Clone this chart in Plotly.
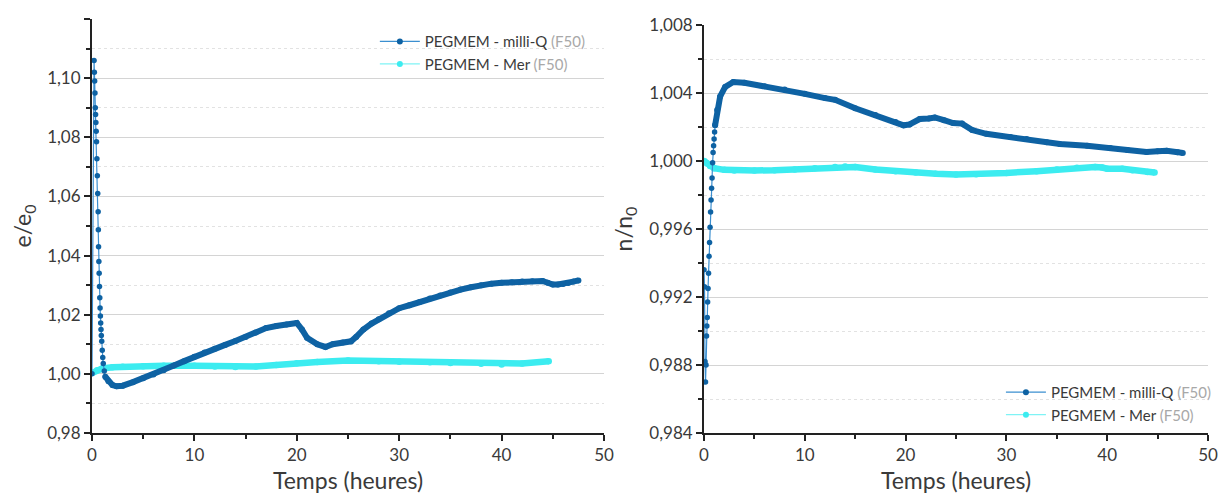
import plotly.graph_objects as go

# ---------------- Data ----------------
# Left panel: e/e0 vs time (h)
L_mq_early_t = [0.00, 0.20, 0.23, 0.26, 0.29, 0.32, 0.35, 0.38, 0.41, 0.44, 0.48, 0.52, 0.56, 0.60,
                0.62, 0.64, 0.67, 0.70, 0.73, 0.76, 0.79, 0.82, 0.85, 0.88, 0.91, 0.95, 1.00, 1.05,
                1.10, 1.20, 1.30]
L_mq_early_y = [1.000, 1.106, 1.102, 1.099, 1.095, 1.090, 1.0877, 1.085, 1.082, 1.0785, 1.0727, 1.067,
                1.061, 1.0548, 1.0487, 1.043, 1.038, 1.034, 1.0295, 1.0257, 1.0223, 1.0196, 1.0172,
                1.0150, 1.013, 1.011, 1.008, 1.0055, 1.0035, 1.001, 0.999]
L_mq_t = [1.3, 1.6, 2.0, 2.4, 3.0, 4.0, 5.0, 6.0, 7.0, 8.0, 9.0, 10.0, 11.0, 12.0, 13.0, 14.0, 15.0,
          16.0, 17.0, 18.0, 19.0, 20.0, 20.5, 21.0, 22.0, 22.8, 23.5, 24.5, 25.3, 25.8, 26.5, 27.3,
          28.0, 29.0, 30.0, 31.0, 32.0, 33.0, 34.0, 35.0, 36.0, 37.0, 38.0, 39.0, 40.0, 41.0, 42.0,
          43.0, 44.0, 44.5, 45.0, 45.5, 46.0, 46.5, 47.0, 47.5]
L_mq_y = [0.999, 0.9975, 0.9962, 0.9958, 0.996, 0.9972, 0.9985, 0.9998, 1.0012, 1.0028, 1.0043,
          1.0058, 1.0072, 1.0085, 1.0098, 1.0111, 1.0125, 1.0140, 1.0155, 1.0162, 1.0167, 1.0172,
          1.0150, 1.0122, 1.0100, 1.0091, 1.0100, 1.0106, 1.0110, 1.0125, 1.0150, 1.0170, 1.0185,
          1.0205, 1.0222, 1.0232, 1.0243, 1.0255, 1.0265, 1.0275, 1.0285, 1.0293, 1.0300, 1.0305,
          1.0308, 1.0310, 1.0312, 1.0313, 1.0314, 1.0308, 1.0302, 1.0302, 1.0304, 1.0307, 1.0312,
          1.0316]
L_mer_t = [0.0, 0.5, 1.0, 2.0, 3.0, 5.0, 7.0, 10.0, 12.0, 14.0, 16.0, 18.0, 20.0, 22.0, 25.0, 28.0,
           30.0, 33.0, 35.0, 38.0, 40.0, 42.0, 44.6]
L_mer_y = [1.0003, 1.0012, 1.0018, 1.0022, 1.0024, 1.0026, 1.0027, 1.0027, 1.0025, 1.0023, 1.0025,
           1.0030, 1.0036, 1.0040, 1.0045, 1.0043, 1.0041, 1.0039, 1.0037, 1.0034, 1.0032, 1.0035,
           1.0043]

# Right panel: n/n0 vs time (h)
R_mq_early_t = [0.00, 0.05, 0.10, 0.15, 0.20, 0.25, 0.28, 0.32, 0.36, 0.40, 0.45, 0.50, 0.55, 0.60,
                0.65, 0.70, 0.75, 0.80, 0.85, 0.90, 0.95, 1.00, 1.05, 1.10]
R_mq_early_y = [0.9936, 0.9926, 0.9882, 0.9870, 0.9880, 0.9897, 0.9903, 0.9908, 0.9917, 0.9925,
                0.9934, 0.9944, 0.9952, 0.9961, 0.9970, 0.9977, 0.9984, 0.9990, 0.9999, 1.0005,
                1.0009, 1.0013, 1.0017, 1.0021]
R_mq_t = [1.1, 1.3, 1.6, 2.1, 2.9, 4.0, 6.0, 8.0, 10.0, 12.0, 13.0, 15.0, 17.0, 19.0, 19.8, 20.4,
          21.4, 22.3, 22.9, 23.8, 24.7, 25.6, 26.6, 28.0, 30.4, 32.0, 34.0, 35.3, 38.0, 40.3, 42.0,
          43.9, 45.0, 45.9, 47.0, 47.5]
R_mq_y = [1.0021, 1.0030, 1.0038, 1.00436, 1.00465, 1.0046, 1.0044, 1.0042, 1.00395, 1.0037, 1.0036,
          1.0031, 1.0027, 1.0023, 1.0021, 1.00215, 1.00247, 1.0025, 1.00256, 1.0024, 1.00223, 1.0022,
          1.00182, 1.0016, 1.00141, 1.0013, 1.0011, 1.0010, 1.0009, 1.00076, 1.00065, 1.00053,
          1.00058, 1.0006, 1.00052, 1.00047]
R_mer_t = [0.0, 0.3, 0.6, 1.0, 2.0, 3.0, 5.0, 7.0, 9.0, 11.0, 13.0, 14.0, 15.0, 17.0, 19.0, 21.0,
           23.0, 25.0, 27.0, 30.0, 33.0, 35.0, 37.0, 38.8, 39.5, 40.0, 41.5, 42.5, 44.0, 44.7]
R_mer_y = [1.0000, 0.99985, 0.9997, 0.99958, 0.99948, 0.99944, 0.99944, 0.99946, 0.9995, 0.99958,
           0.99965, 0.99967, 0.99965, 0.9995, 0.9994, 0.99933, 0.99925, 0.9992, 0.99922, 0.9993,
           0.9994, 0.9995, 0.9996, 0.99965, 0.99962, 0.99955, 0.99955, 0.99945, 0.99935, 0.99932]

LABEL_MQ = "PEGMEM - milli-Q <span style='color:#a8a8a8'>(F50)</span>"
LABEL_MER = "PEGMEM - Mer <span style='color:#a8a8a8'>(F50)</span>"

C_MQ = "#0e62a3"
C_MQ_THIN = "#3b8fd0"
C_MER = "#3cecf0"
FONT = "Lato, 'Open Sans', sans-serif"
TXT = "#3a3a3a"

fig = go.Figure()

def add_panel(xa, ya, e_t, e_y, m_t, m_y, r_t, r_y, legend):
    fig.add_trace(go.Scatter(x=r_t, y=r_y, mode="lines+markers", xaxis=xa, yaxis=ya,
                             line=dict(color=C_MER, width=6.5), marker=dict(color=C_MER, size=6.5),
                             showlegend=False, hoverinfo="skip"))
    fig.add_trace(go.Scatter(x=e_t, y=e_y, mode="lines+markers", xaxis=xa, yaxis=ya,
                             line=dict(color=C_MQ_THIN, width=1.2),
                             marker=dict(color=C_MQ, size=5.5),
                             showlegend=False, hoverinfo="skip"))
    fig.add_trace(go.Scatter(x=m_t, y=m_y, mode="lines+markers", xaxis=xa, yaxis=ya,
                             line=dict(color=C_MQ, width=6), marker=dict(color=C_MQ, size=6),
                             showlegend=False, hoverinfo="skip"))
    fig.add_trace(go.Scatter(x=[None], y=[None], mode="lines+markers", xaxis=xa, yaxis=ya,
                             name=LABEL_MQ, legend=legend,
                             line=dict(color=C_MQ_THIN, width=1.2), marker=dict(color=C_MQ, size=6)))
    fig.add_trace(go.Scatter(x=[None], y=[None], mode="lines+markers", xaxis=xa, yaxis=ya,
                             name=LABEL_MER, legend=legend,
                             line=dict(color="#7ff3f5", width=1.2), marker=dict(color=C_MER, size=6)))

add_panel("x", "y", L_mq_early_t, L_mq_early_y, L_mq_t, L_mq_y, L_mer_t, L_mer_y, "legend")
add_panel("x2", "y2", R_mq_early_t, R_mq_early_y, R_mq_t, R_mq_y, R_mer_t, R_mer_y, "legend2")

axis_common = dict(showline=True, linecolor="#222", linewidth=2, ticks="outside", tickcolor="#222",
                   ticklen=6, tickwidth=2, tickfont=dict(family=FONT, size=17, color=TXT),
                   zeroline=False, mirror=False, automargin=False)

xcommon = dict(axis_common, range=[0, 50], dtick=10, showgrid=False,
               minor=dict(dtick=5, ticks="outside", ticklen=4, tickcolor="#222", tickwidth=2),
               title=dict(text="Temps (heures)", font=dict(family=FONT, size=23, color=TXT),
                          standoff=17))

# page body has an 8px margin: figure is sized to fit inside the window
fig.update_layout(
    width=1211, height=486,
    paper_bgcolor="white", plot_bgcolor="white",
    separators=", ",
    margin=dict(l=84, r=11, t=11, b=61, autoexpand=False),
    font=dict(family=FONT, color=TXT),
    xaxis=dict(xcommon, domain=[0, 0.4588], anchor="y"),
    xaxis2=dict(xcommon, domain=[0.5484, 1.0], anchor="y2"),
    yaxis=dict(axis_common, domain=[0, 1], anchor="x", range=[0.98, 1.12], dtick=0.02,
               tickformat=".2f", showgrid=True, gridcolor="#d4d4d4", gridwidth=1,
               minor=dict(dtick=0.01, ticks="outside", ticklen=4, tickcolor="#222", tickwidth=2,
                          showgrid=True, gridcolor="#e2e2e2", griddash="dot", gridwidth=1),
               title=dict(text="e/e<sub>0</sub>", font=dict(family=FONT, size=23, color=TXT),
                          standoff=16)),
    yaxis2=dict(axis_common, domain=[0, 0.9855], anchor="x2", range=[0.984, 1.008], dtick=0.004,
                tickformat=".3f", showgrid=True, gridcolor="#d4d4d4", gridwidth=1,
                minor=dict(dtick=0.002, ticks="outside", ticklen=4, tickcolor="#222", tickwidth=2,
                           showgrid=True, gridcolor="#e2e2e2", griddash="dot", gridwidth=1),
                title=dict(text="n/n<sub>0</sub>", font=dict(family=FONT, size=23, color=TXT),
                           standoff=10)),
    legend=dict(x=0.447, y=0.985, xanchor="right", yanchor="top", bgcolor="rgba(255,255,255,0)",
                font=dict(family=FONT, size=15, color=TXT), tracegroupgap=0, itemwidth=40),
    legend2=dict(x=1.008, y=0.005, xanchor="right", yanchor="bottom", bgcolor="rgba(255,255,255,0)",
                 font=dict(family=FONT, size=15, color=TXT), tracegroupgap=0, itemwidth=40),
)

fig.write_html("out.html")
